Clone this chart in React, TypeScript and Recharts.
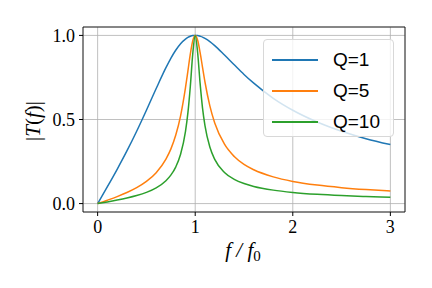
import React from "react";
import {
  LineChart,
  Line,
  XAxis,
  YAxis,
  CartesianGrid,
  ReferenceArea,
  Legend,
  Label,
} from "recharts";

// f / f0 sample points (denser near resonance)
const freq = [
  0, 0.1, 0.2, 0.3, 0.4, 0.5, 0.6, 0.7, 0.75, 0.8, 0.85, 0.9, 0.925, 0.95, 0.975, 1.0,
  1.025, 1.05, 1.075, 1.1, 1.15, 1.2, 1.3, 1.4, 1.5, 1.6, 1.8, 2.0, 2.25, 2.5, 2.75, 3.0,
];
const q1 = [
  0, 0.1005, 0.204, 0.313, 0.43, 0.555, 0.684, 0.808, 0.864, 0.912, 0.951, 0.978, 0.988, 0.995, 0.999, 1.0,
  0.999, 0.995, 0.99, 0.982, 0.963, 0.939, 0.883, 0.825, 0.768, 0.716, 0.626, 0.555, 0.485, 0.43, 0.386, 0.351,
];
const q5 = [
  0, 0.0202, 0.0416, 0.0658, 0.0948, 0.132, 0.184, 0.265, 0.324, 0.406, 0.522, 0.688, 0.788, 0.89, 0.969, 1.0,
  0.971, 0.899, 0.81, 0.723, 0.581, 0.479, 0.353, 0.28, 0.233, 0.201, 0.159, 0.132, 0.11, 0.0948, 0.0835, 0.0748,
];
const q10 = [
  0, 0.0101, 0.0208, 0.033, 0.0476, 0.0665, 0.0933, 0.136, 0.169, 0.217, 0.293, 0.428, 0.539, 0.698, 0.892, 1.0,
  0.897, 0.716, 0.568, 0.464, 0.336, 0.263, 0.185, 0.144, 0.119, 0.102, 0.0801, 0.0665, 0.0553, 0.0476, 0.0419, 0.0375,
];
const xTicks = [0, 1, 2, 3];
const yTicks = [0, 0.5, 1.0];

const series = [
  { key: "q1", name: "Q=1", color: "#1f77b4" },
  { key: "q5", name: "Q=5", color: "#ff7f0e" },
  { key: "q10", name: "Q=10", color: "#2ca02c" },
];

const data = freq.map((f, i) => ({ f, q1: q1[i], q5: q5[i], q10: q10[i] }));

const SERIF = "'Liberation Serif', 'DejaVu Serif', serif";
const SANS = "'Liberation Sans', 'DejaVu Sans', sans-serif";

function LegendBox() {
  return (
    <div
      style={{
        width: 131,
        height: 98,
        boxSizing: "border-box",
        border: "1px solid #d8d8d8",
        borderRadius: 4,
        background: "rgba(255,255,255,0.8)",
        paddingTop: 4,
      }}
    >
      {series.map((s) => (
        <div key={s.key} style={{ display: "flex", alignItems: "center", height: 31 }}>
          <div style={{ width: 46, height: 2, background: s.color, marginLeft: 8 }} />
          <span style={{ marginLeft: 15, fontFamily: SANS, fontSize: 19, color: "#000" }}>{s.name}</span>
        </div>
      ))}
    </div>
  );
}

export default function App() {
  return (
    <div style={{ position: "absolute", left: 0, top: 0, width: 432, height: 288, background: "#fff" }}>
      <LineChart width={432} height={288} data={data} margin={{ top: 27, right: 27, bottom: 0, left: 0 }}>
        <CartesianGrid stroke="#b0b0b0" strokeWidth={0.8} />
        <XAxis
          dataKey="f"
          type="number"
          domain={[-0.15, 3.15]}
          ticks={xTicks}
          tickFormatter={(v: number) => String(v)}
          axisLine={false}
          tickSize={4}
          tickMargin={4}
          tickLine={{ stroke: "#000" }}
          tick={{ fill: "#000", fontFamily: SERIF, fontSize: 18 }}
          height={76}
        >
          <Label
            content={() => (
              <text x={243} y={257} textAnchor="middle" fontFamily={SERIF} fontSize={21} fontStyle="italic" fill="#000">
                f / f<tspan fontSize={15} dy={4} fontStyle="normal">0</tspan>
              </text>
            )}
          />
        </XAxis>
        <YAxis
          type="number"
          domain={[-0.05, 1.05]}
          ticks={yTicks}
          tickFormatter={(v: number) => v.toFixed(1)}
          axisLine={false}
          tickSize={4}
          tickMargin={4}
          tickLine={{ stroke: "#000" }}
          tick={{ fill: "#000", fontFamily: SERIF, fontSize: 18 }}
          width={83}
        >
          <Label
            content={() => (
              <text
                x={40}
                y={121}
                transform="rotate(-90 40 121)"
                textAnchor="middle"
                fontFamily={SERIF}
                fontSize={21}
                fill="#000"
              >
                |<tspan fontStyle="italic">T</tspan>(<tspan fontStyle="italic">f</tspan>)|
              </text>
            )}
          />
        </YAxis>
        {series.map((s) => (
          <Line
            key={s.key}
            type="monotone"
            dataKey={s.key}
            name={s.name}
            stroke={s.color}
            strokeWidth={1.5}
            dot={false}
            isAnimationActive={false}
          />
        ))}
        <ReferenceArea x1={-0.15} x2={3.15} y1={-0.05} y2={1.05} stroke="#000" strokeWidth={0.8} fill="none" fillOpacity={0} />
        <Legend
          layout="vertical"
          align="center"
          verticalAlign="middle"
          content={() => <LegendBox />}
          wrapperStyle={{ position: "absolute", left: 263, top: 39, width: 131, height: 98 }}
        />
      </LineChart>
    </div>
  );
}
